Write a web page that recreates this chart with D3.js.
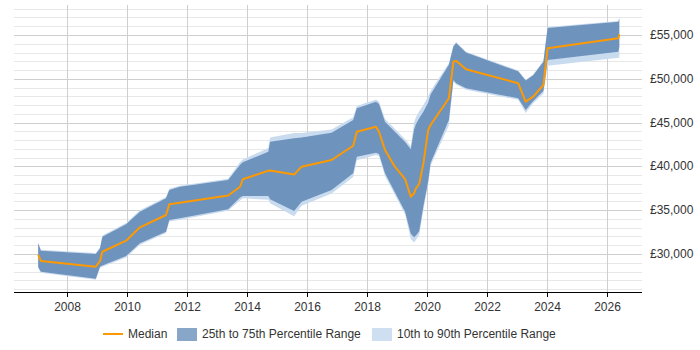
<!DOCTYPE html>
<html>
<head>
<meta charset="utf-8">
<script src="https://cdn.jsdelivr.net/npm/d3@7"></script>
<style>
  body { margin: 0; background: #fff; }
  text { font-family: "Liberation Sans", Arial, sans-serif; }
</style>
</head>
<body>
<div id="chart"></div>
<script>
// decimal years
const dates = [2007.04, 2007.13, 2008.96, 2009.10, 2009.18, 2009.97, 2010.43, 2011.30, 2011.41, 2011.76,
  2013.37, 2013.77, 2013.86, 2014.71, 2014.77, 2015.57, 2015.82, 2016.82, 2017.54, 2017.66,
  2018.30, 2018.40, 2018.60, 2018.93, 2019.27, 2019.46, 2019.57, 2019.63, 2019.74, 2019.88,
  2020.04, 2020.12, 2020.73, 2020.88, 2020.97, 2021.30, 2023.04, 2023.29, 2023.54, 2023.88,
  2024.02, 2026.38, 2026.41];

const median = [29900, 29200, 28550, 29200, 30260, 31520, 33050, 34450, 35670, 35860,
  36680, 37680, 38530, 39510, 39520, 39080, 39970, 40730, 42360, 43960,
  44530, 43960, 41870, 39970, 38560, 36540, 36930, 37500, 37990, 40350,
  44160, 44730, 47780, 51950, 52070, 51090, 49490, 47390, 47960, 49290,
  53480, 54620, 55080];

const p75 = [31220, 30380, 30000, 30650, 31970, 33390, 34830, 36360, 37310, 37680,
  38450, 40200, 40470, 41680, 42820, 43220, 43300, 43850, 45300, 46630,
  47390, 47120, 45100, 43960, 42790, 41950, 44200, 44800, 45500, 46250,
  47300, 48200, 51600, 53700, 54100, 53000, 50850, 49800, 50400, 51950,
  55800, 56520, 56910];

const p25 = [28520, 27980, 27180, 28550, 28700, 29770, 31220, 32550, 33880, 34080,
  35100, 36440, 36620, 36620, 36240, 34910, 35970, 37310, 39210, 41110,
  41560, 41420, 39210, 37050, 34830, 32300, 31900, 32100, 32600, 35480,
  38300, 40400, 45300, 49860, 49500, 48920, 47780, 46440, 47470, 48610,
  52150, 53090, 53670];

const p90 = [31300, 30480, 30100, 30750, 32100, 33550, 35000, 36500, 37450, 37800,
  38600, 40500, 40800, 42100, 43300, 43800, 43800, 44200, 45600, 46900,
  47650, 47400, 45400, 44300, 43100, 42300, 45000, 45600, 46300, 47000,
  48000, 48600, 51800, 53800, 54200, 53100, 50950, 49900, 50500, 52050,
  55900, 56600, 56950];

const p10 = [28400, 27850, 27050, 28400, 28550, 29600, 31050, 32400, 33700, 33900,
  34950, 36150, 36350, 36200, 35800, 34300, 35500, 36900, 38800, 40700,
  41300, 41200, 38900, 36750, 34500, 31700, 31300, 31600, 32200, 35000,
  38000, 40100, 44700, 49650, 49350, 48750, 47600, 46100, 47200, 48300,
  51500, 52400, 52400];

const yearTicks = [2008, 2010, 2012, 2014, 2016, 2018, 2020, 2022, 2024, 2026];
const salaryTicks = [30000, 35000, 40000, 45000, 50000, 55000];
const minorTicks = d3.range(26000, 58001, 1000);

const legendItems = ["Median", "25th to 75th Percentile Range", "10th to 90th Percentile Range"];

const width = 700, height = 350;
const rows = dates.map((d, i) => ({
  year: d, med: median[i], lo: p25[i], hi: p75[i], lo2: p10[i], hi2: p90[i]
}));

const x = d3.scaleLinear().domain([2006.233, 2027.167]).range([14, 642]);
const y = d3.scaleLinear().domain([25662, 58425]).range([292, 5]);

const svg = d3.select("#chart").append("svg")
  .attr("width", width).attr("height", height);

// horizontal grid
svg.append("g").selectAll("line")
  .data(minorTicks)
  .enter().append("line")
  .attr("x1", 14).attr("x2", 642)
  .attr("y1", d => Math.round(y(d)) + 0.5)
  .attr("y2", d => Math.round(y(d)) + 0.5)
  .attr("stroke", d => d % 5000 === 0 ? "#cfcfcf" : "#e8e8e8")
  .attr("stroke-width", 1);

// vertical grid
svg.append("g").selectAll("line")
  .data(yearTicks)
  .enter().append("line")
  .attr("x1", d => Math.round(x(d)) + 0.5)
  .attr("x2", d => Math.round(x(d)) + 0.5)
  .attr("y1", 5).attr("y2", 292)
  .attr("stroke", "#cfcfcf");

const area90 = d3.area().x(d => x(d.year)).y0(d => y(d.lo2)).y1(d => y(d.hi2));
const area75 = d3.area().x(d => x(d.year)).y0(d => y(d.lo)).y1(d => y(d.hi));
const line = d3.line().x(d => x(d.year)).y(d => y(d.med));

svg.append("path").datum(rows).attr("d", area90).attr("fill", "#c9dbef");
svg.append("path").datum(rows).attr("d", area75).attr("fill", "#6e93bd");
svg.append("path").datum(rows).attr("d", line)
  .attr("fill", "none").attr("stroke", "#ff9900").attr("stroke-width", 2)
  .attr("stroke-linejoin", "round");

// x axis
const xAxis = svg.append("g")
  .attr("transform", "translate(0,292)")
  .call(d3.axisBottom(x).tickValues(yearTicks).tickFormat(d3.format("d")).tickSize(5).tickSizeOuter(0));
xAxis.select(".domain").attr("stroke", "#000").attr("d", "M14,0.5H642");
xAxis.selectAll(".tick line").attr("stroke", "#000");
xAxis.selectAll("text").attr("font-size", 12).attr("fill", "#333").attr("dy", "0.95em")
  .style("font-family", "'Liberation Sans', Arial, sans-serif");

// y labels
svg.append("g").selectAll("text")
  .data(salaryTicks)
  .enter().append("text")
  .attr("x", 650)
  .attr("y", d => y(d) + 4)
  .attr("font-size", 12)
  .attr("fill", "#333")
  .text(d => "£" + d3.format(",")(d));

// legend
const lg = svg.append("g");
lg.append("line").attr("x1", 103).attr("x2", 123).attr("y1", 334).attr("y2", 334)
  .attr("stroke", "#ff9900").attr("stroke-width", 2);
lg.append("text").attr("x", 128).attr("y", 338).attr("font-size", 12).attr("fill", "#333").text(legendItems[0]);
lg.append("rect").attr("x", 177).attr("y", 328).attr("width", 20).attr("height", 13).attr("fill", "#88a6c8");
lg.append("text").attr("x", 202).attr("y", 338).attr("font-size", 12).attr("fill", "#333").text(legendItems[1]);
lg.append("rect").attr("x", 372).attr("y", 328).attr("width", 20).attr("height", 13).attr("fill", "#cddff0");
lg.append("text").attr("x", 397).attr("y", 338).attr("font-size", 12).attr("fill", "#333").text(legendItems[2]);
</script>
</body>
</html>
